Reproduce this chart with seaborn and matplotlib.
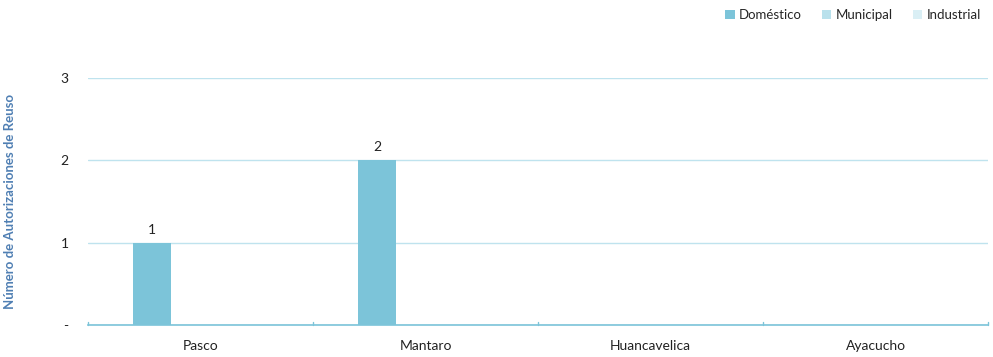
import pandas as pd
import matplotlib.pyplot as plt
import seaborn as sns

# Datos
cuencas = ['Pasco', 'Mantaro', 'Huancavelica', 'Ayacucho']
domestico = [1, 2, 0, 0]
municipal = [0, 0, 0, 0]
industrial = [0, 0, 0, 0]
usos = ['Doméstico', 'Municipal', 'Industrial']
colores = ['#7cc4d9', '#b9e1ec', '#daeff5']

rows = []
for uso, vals in zip(usos, [domestico, municipal, industrial]):
    for c, v in zip(cuencas, vals):
        rows.append({'cuenca': c, 'uso': uso, 'valor': v})
df = pd.DataFrame(rows)

sns.set_style('white')
plt.rcParams['font.family'] = ['Lato', 'DejaVu Sans']

fig = plt.figure(figsize=(9.93, 3.57), dpi=100)
ax = fig.add_axes([0.0886, 0.0896, 0.9064, 0.692])

sns.barplot(data=df, x='cuenca', y='valor', hue='uso', palette=colores,
            width=0.647, gap=0.2, saturation=1, linewidth=0, ax=ax, legend=True)

ax.set_ylim(0, 3)
ax.set_xlim(-0.5, 3.5)
ax.set_yticks([0, 1, 2, 3])
ax.set_yticklabels(['-', '1', '2', '3'], fontsize=10, color='#222222')
ax.yaxis.grid(True, color='#bfe3ee', linewidth=1)
ax.set_axisbelow(True)
for s in ['top', 'right', 'left']:
    ax.spines[s].set_visible(False)
ax.spines['bottom'].set_color('#7cc4d9')
ax.spines['bottom'].set_linewidth(1.2)

ax.set_xticks([0, 1, 2, 3])
ax.set_xticklabels(cuencas, fontsize=10, color='#222222')
ax.tick_params(axis='x', length=0, pad=11)
ax.tick_params(axis='y', length=0, pad=14)
# marcas en los limites de categoria
for b in [-0.5, 0.5, 1.5, 2.5, 3.5]:
    ax.plot([b, b], [0, 0.04], color='#7cc4d9', lw=1, clip_on=False)

ax.set_xlabel('')
ax.set_ylabel('Número de Autorizaciones de Reuso', fontsize=9.5, fontweight='bold',
              color='#4f7fb3', labelpad=32)

# etiquetas de valores
for cont in ax.containers:
    labels = [str(int(v)) if v > 0 else '' for v in cont.datavalues]
    ax.bar_label(cont, labels=labels, padding=5, fontsize=10, color='#222222')

ax.legend(loc='upper right', bbox_to_anchor=(0.997, 1.0), bbox_transform=fig.transFigure,
          ncol=3, frameon=False, fontsize=9.5, handlelength=0.7, handleheight=0.7,
          handletextpad=0.35, columnspacing=1.5, borderaxespad=0.3)

fig.savefig('out.png', dpi=100)
